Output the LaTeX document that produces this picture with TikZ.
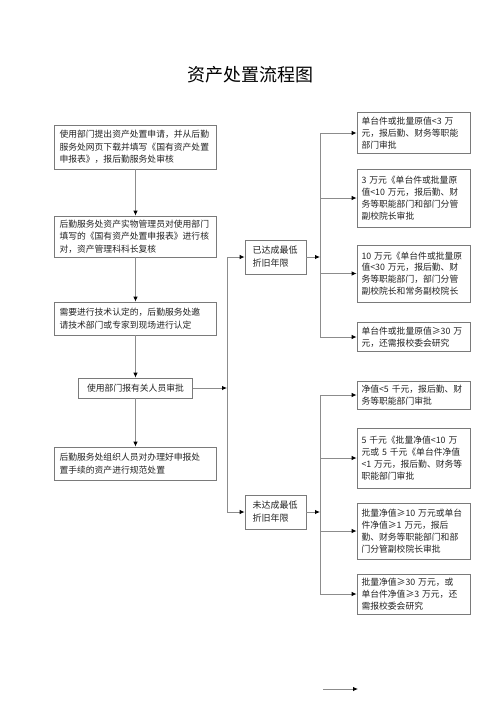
\documentclass[tikz,border=0pt]{standalone}
\usepackage{fontspec}
\setmainfont{Noto Sans CJK SC}
\usetikzlibrary{arrows.meta}
\definecolor{boxgray}{HTML}{7A7A7A}
\definecolor{linegray}{HTML}{8C8C8C}
\definecolor{txt}{HTML}{222222}
\begin{document}
\begin{tikzpicture}[x=1pt,y=-1pt,
  box/.style={draw=boxgray, line width=0.8pt, inner sep=0pt, align=left, text=txt, font=\fontsize{8.8}{12.5}\selectfont},
  lbox/.style={box, minimum width=162pt, text width=152pt},
  rbox/.style={box, minimum width=113pt, text width=104pt, font=\fontsize{8.8}{11.9}\selectfont},
  mbox/.style={box, minimum width=61pt, minimum height=34pt, text width=46pt, font=\fontsize{9}{13}\selectfont},
  conn/.style={draw=linegray, line width=0.9pt},
  arr/.style={conn, -{Latex[length=5pt,width=4.5pt,black]}}
]
\useasboundingbox (0,0) rectangle (500,707);
\node[font=\fontsize{18}{20}\selectfont, text=black] (title) at (250,75) {资产处置流程图};

% left column
\node[lbox, minimum height=44pt] (L1) at (135.5,147) {使用部门提出资产处置申请，并从后勤\\服务处网页下载并填写《国有资产处置\\申报表》，报后勤服务处审核};
\node[lbox, minimum height=41pt] (L2) at (135.5,236.5) {后勤服务处资产实物管理员对使用部门\\填写的《国有资产处置申报表》进行核\\对，资产管理科科长复核};
\node[lbox, minimum height=33pt] (L3) at (135.5,318.5) {需要进行技术认定的，后勤服务处邀\\请技术部门或专家到现场进行认定};
\node[box, minimum width=114pt, minimum height=20pt, align=center] (L4) at (135.5,388) {使用部门报有关人员审批};
\node[lbox, minimum height=33pt] (L5) at (135.5,463.5) {后勤服务处组织人员对办理好申报处\\置手续的资产进行规范处置};

\draw[arr] (L1) -- (L2);
\draw[arr] (L2) -- (L3);
\draw[arr] (L3) -- (L4);
\draw[arr] (L4) -- (L5);

% middle column
\node[mbox] (M1) at (275.5,257) {已达成最低\\折旧年限};
\node[mbox] (M2) at (275.5,512) {未达成最低\\折旧年限};

\coordinate (bx) at (227,0);
\draw[arr] (L4.east) -- (L4.east -| bx);
\draw[arr] (bx |- M2.west) -- (bx |- M1.west) -- (M1.west);
\draw[arr] (bx |- M1.west) -- (bx |- M2.west) -- (M2.west);

% right column
\node[rbox, minimum height=41pt] (R1) at (413.5,133) {单台件或批量原值<3 万\\元，报后勤、财务等职能\\部门审批};
\node[rbox, minimum height=58pt] (R2) at (413.5,198) {3 万元《单台件或批量原\\值<10 万元，报后勤、财\\务等职能部门和部门分管\\副校院长审批};
\node[rbox, minimum height=57pt] (R3) at (413.5,273.5) {10 万元《单台件或批量原\\值<30 万元，报后勤、财\\务等职能部门，部门分管\\副校院长和常务副校院长};
\node[rbox, minimum height=29pt] (R4) at (413.5,337) {单台件或批量原值≥30 万\\元，还需报校委会研究};
\node[rbox, minimum height=28pt] (R5) at (413.5,395) {净值<5 千元，报后勤、财\\务等职能部门审批};
\node[rbox, minimum height=60pt] (R6) at (413.5,458) {5 千元《批量净值<10 万\\元或 5 千元《单台件净值\\<1 万元，报后勤、财务等\\职能部门审批};
\node[rbox, minimum height=56pt] (R7) at (413.5,531) {批量净值≥10 万元或单台\\件净值≥1 万元，报后\\勤、财务等职能部门和部\\门分管副校院长审批};
\node[rbox, minimum height=40pt] (R8) at (413.5,594) {批量净值≥30 万元，或\\单台件净值≥3 万元，还\\需报校委会研究};

\coordinate (rx) at (320,0);
\draw[arr] (M1.east) -- (M1.east -| rx);
\draw[arr] (M2.east) -- (M2.east -| rx);
\draw[conn] (rx |- R1.west) -- (rx |- R4.west);
\draw[conn] (rx |- R5.west) -- (rx |- R8.west);
\foreach \r in {R1,R2,R3,R4,R5,R6,R7,R8}
  \draw[arr] (rx |- \r.west) -- (\r.west);

% free arrow at bottom
\coordinate (fa) at (323,689);
\coordinate (fb) at (358,689);
\draw[arr] (fa) -- (fb);
\end{tikzpicture}
\end{document}
